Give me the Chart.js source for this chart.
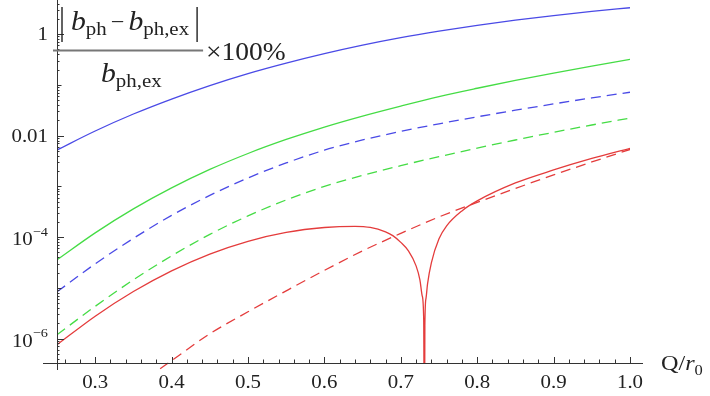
<!DOCTYPE html>
<html>
<head>
<meta charset="utf-8">
<script src="https://cdn.jsdelivr.net/npm/chart.js@4.4.0/dist/chart.umd.min.js"></script>
<style>
  html, body { margin: 0; padding: 0; background: #fff; }
  #wrap { width: 710px; height: 396px; position: relative; }
</style>
</head>
<body>
<div id="wrap"><canvas id="errChart"></canvas></div>
<script>
// Q/r0 grid shared by the four smooth curves
const qGrid = [0.25, 0.30, 0.35, 0.40, 0.45, 0.50, 0.55, 0.60, 0.65, 0.70, 0.75, 0.80, 0.85, 0.90, 0.95, 1.00];
const blueSolid   = [5.21e-3, 0.01232, 0.02661, 0.05253, 0.09688, 0.1669, 0.2686, 0.4131, 0.6073, 0.8535, 1.146, 1.490, 1.886, 2.324, 2.798, 3.309];
const greenSolid  = [3.56e-5, 1.210e-4, 3.59e-4, 9.30e-4, 2.151e-3, 4.44e-3, 8.38e-3, 0.01476, 0.02430, 0.03825, 0.05885, 0.08573, 0.1221, 0.1707, 0.2345, 0.3177];
const blueDashed  = [8.34e-6, 2.968e-5, 9.43e-5, 2.675e-4, 6.62e-4, 1.464e-3, 2.888e-3, 5.16e-3, 8.19e-3, 0.01210, 0.01707, 0.02345, 0.03162, 0.04207, 0.05523, 0.07150];
const greenDashed = [1.188e-6, 4.32e-6, 1.437e-5, 4.27e-5, 1.130e-4, 2.615e-4, 5.40e-4, 9.95e-4, 1.639e-3, 2.556e-3, 3.842e-3, 5.67e-3, 8.19e-3, 0.01161, 0.01617, 0.02211];

// red solid changes sign near Q/r0 = 0.731, so its log plot dips to -infinity there
const redX     = [0.25, 0.30, 0.35, 0.40, 0.45, 0.50, 0.55, 0.60, 0.64, 0.66, 0.68, 0.69, 0.70, 0.71, 0.72, 0.725, 0.728, 0.730, 0.7309, 0.7315, 0.733, 0.735, 0.74, 0.75, 0.76, 0.78, 0.80, 0.85, 0.90, 0.95, 1.00];
const redSolid = [7.55e-7, 2.76e-6, 8.45e-6, 2.16e-5, 4.63e-5, 8.27e-5, 1.238e-4, 1.545e-4, 1.632e-4, 1.552e-4, 1.266e-4, 1.056e-4, 7.86e-5, 5.35e-5, 2.71e-5, 1.44e-5, 6.96e-6, 2.24e-6, 1e-9, 1.79e-6, 6.21e-6, 1.20e-5, 3.11e-5, 9.22e-5, 1.662e-4, 3.28e-4, 5.16e-4, 1.166e-3, 2.102e-3, 3.54e-3, 5.62e-3];

const redDashX  = [0.385, 0.40, 0.45, 0.50, 0.55, 0.60, 0.65, 0.70, 0.75, 0.80, 0.85, 0.90, 0.95, 1.00];
const redDashed = [2.54e-7, 3.66e-7, 1.243e-6, 3.37e-6, 8.72e-6, 2.21e-5, 5.35e-5, 1.182e-4, 2.498e-4, 4.82e-4, 9.09e-4, 1.676e-3, 3.022e-3, 5.33e-3];

// axis ticks
const xTicks      = [0.3, 0.4, 0.5, 0.6, 0.7, 0.8, 0.9, 1.0];
const xTickLabels = ['0.3', '0.4', '0.5', '0.6', '0.7', '0.8', '0.9', '1.0'];
const yTicks      = [1, 0.01, 1e-4, 1e-6];
const yTickBase   = ['1', '0.01', '10', '10'];
const yTickExp    = ['', '', '\u22124', '\u22126'];

const SERIF = '"Liberation Serif", "Times New Roman", Times, serif';
const INK = '#222';
const SX = 1.1; // text in the original is a little wide

function pts(xs, ys) {
    return xs.map((x, i) => ({ x: x, y: ys[i] }));
}

function curve(xs, ys, color, dashed, extra) {
    return Object.assign({
        data: pts(xs, ys),
        borderColor: color,
        borderWidth: 1.3,
        borderDash: dashed ? [10, 6] : [],
        pointRadius: 0,
        fill: false,
        cubicInterpolationMode: 'monotone'
    }, extra || {});
}

// draws horizontally stretched text, returns its width
function txt(ctx, s, x, y, font, align) {
    ctx.font = font;
    const w = ctx.measureText(s).width * SX;
    let x0 = x;
    if (align === 'right') x0 = x - w;
    else if (align === 'center') x0 = x - w / 2;
    ctx.save();
    ctx.translate(x0, y);
    ctx.scale(SX, 1);
    ctx.textAlign = 'left';
    ctx.fillText(s, 0, 0);
    ctx.restore();
    return w;
}

// Mathematica-style axes: ticks pointing into the plot, custom labels
const axesPlugin = {
    id: 'mmaAxes',
    afterDatasetsDraw(chart) {
        const { ctx, chartArea: a, scales } = chart;
        const xs = scales.x, ys = scales.y;
        ctx.save();
        ctx.strokeStyle = '#333';
        ctx.lineWidth = 1;

        // axis lines
        ctx.beginPath();
        ctx.moveTo(a.left + 0.5, a.top);
        ctx.lineTo(a.left + 0.5, a.bottom + 7);
        ctx.moveTo(a.left - 14, a.bottom + 0.5);
        ctx.lineTo(a.right + 13, a.bottom + 0.5);
        ctx.stroke();

        // x ticks every 0.02, major every 0.1
        ctx.beginPath();
        for (let k = 13; k <= 50; k++) {
            const px = Math.round(xs.getPixelForValue(k / 50)) + 0.5;
            const len = (k % 5 === 0) ? 6 : 3.5;
            ctx.moveTo(px, a.bottom);
            ctx.lineTo(px, a.bottom - len);
        }
        ctx.stroke();

        // y ticks: 1..9 x 10^e
        ctx.beginPath();
        for (let e = -7; e <= 0; e++) {
            for (let m = 1; m <= 9; m++) {
                const v = m * Math.pow(10, e);
                if (v < ys.min || v > ys.max) continue;
                const py = Math.round(ys.getPixelForValue(v)) + 0.5;
                let len = 2.5;
                if (m === 1) len = (e % 2 === 0) ? 7 : 4.5;
                ctx.moveTo(a.left, py);
                ctx.lineTo(a.left + len, py);
            }
        }
        ctx.stroke();

        // tick labels
        ctx.fillStyle = INK;
        ctx.textBaseline = 'middle';
        const tickFont = '19px ' + SERIF;
        xTicks.forEach((v, i) => {
            txt(ctx, xTickLabels[i], xs.getPixelForValue(v), a.bottom + 20, tickFont, 'center');
        });

        yTicks.forEach((v, i) => {
            const py = ys.getPixelForValue(v);
            const right = a.left - 9;
            if (yTickExp[i]) {
                const ew = txt(ctx, yTickExp[i], right, py - 5, '13px ' + SERIF, 'right');
                txt(ctx, yTickBase[i], right - ew, py + 3, tickFont, 'right');
            } else {
                txt(ctx, yTickBase[i], right, py + 1, tickFont, 'right');
            }
        });

        // x axis title  Q/r0
        ctx.textBaseline = 'alphabetic';
        let tx = 661;
        tx += txt(ctx, 'Q/', tx, 370, '22px ' + SERIF);
        tx += txt(ctx, 'r', tx, 370, 'italic 22px ' + SERIF);
        txt(ctx, '0', tx, 375, '15px ' + SERIF);

        // y label: |b_ph - b_ph,ex| / b_ph,ex x 100%
        const bFont = 'italic 27px ' + SERIF;
        const subFont = '19px ' + SERIF;
        const numBase = 30, subDrop = 5;
        let nx = 71;
        nx += txt(ctx, 'b', nx, numBase, bFont);
        nx += txt(ctx, 'ph', nx, numBase + subDrop, subFont) + 4;
        nx += txt(ctx, '\u2212', nx, numBase - 1, '22px ' + SERIF) + 4;
        nx += txt(ctx, 'b', nx, numBase, bFont);
        nx += txt(ctx, 'ph,ex', nx, numBase + subDrop, subFont);

        // absolute value bars
        ctx.strokeStyle = INK;
        ctx.lineWidth = 1.4;
        ctx.beginPath();
        ctx.moveTo(62, 7); ctx.lineTo(62, 42);
        ctx.moveTo(nx + 8, 7); ctx.lineTo(nx + 8, 42);
        ctx.stroke();

        // fraction bar
        ctx.strokeStyle = '#777';
        ctx.lineWidth = 2;
        ctx.beginPath();
        ctx.moveTo(53, 50.5); ctx.lineTo(nx + 14, 50.5);
        ctx.stroke();

        // denominator
        let dx = 101;
        dx += txt(ctx, 'b', dx, 82, bFont);
        txt(ctx, 'ph,ex', dx, 87, subFont);

        txt(ctx, '\u00d7100%', nx + 17, 60, '25px ' + SERIF);

        ctx.restore();
    }
};

new Chart(document.getElementById('errChart'), {
    type: 'line',
    data: {
        datasets: [
            curve(qGrid, blueSolid, '#4a4ae6', false),
            curve(qGrid, greenSolid, '#45dc45', false),
            curve(qGrid, blueDashed, '#4a4ae6', true),
            curve(qGrid, greenDashed, '#45dc45', true),
            curve(redX, redSolid, '#e43c3c', false),
            curve(redDashX, redDashed, '#e43c3c', true, { clip: { left: 0, top: 0, right: 0, bottom: 10 } })
        ]
    },
    options: {
        responsive: true,
        maintainAspectRatio: false,
        animation: false,
        layout: { padding: { left: 57, right: 80, top: 0, bottom: 33 } },
        plugins: {
            legend: { display: false },
            tooltip: { enabled: false }
        },
        scales: {
            x: { type: 'linear', min: 0.25, max: 1.0, display: false },
            y: { type: 'logarithmic', min: 3.3e-7, max: 4.7, display: false }
        }
    },
    plugins: [axesPlugin]
});
</script>
</body>
</html>
